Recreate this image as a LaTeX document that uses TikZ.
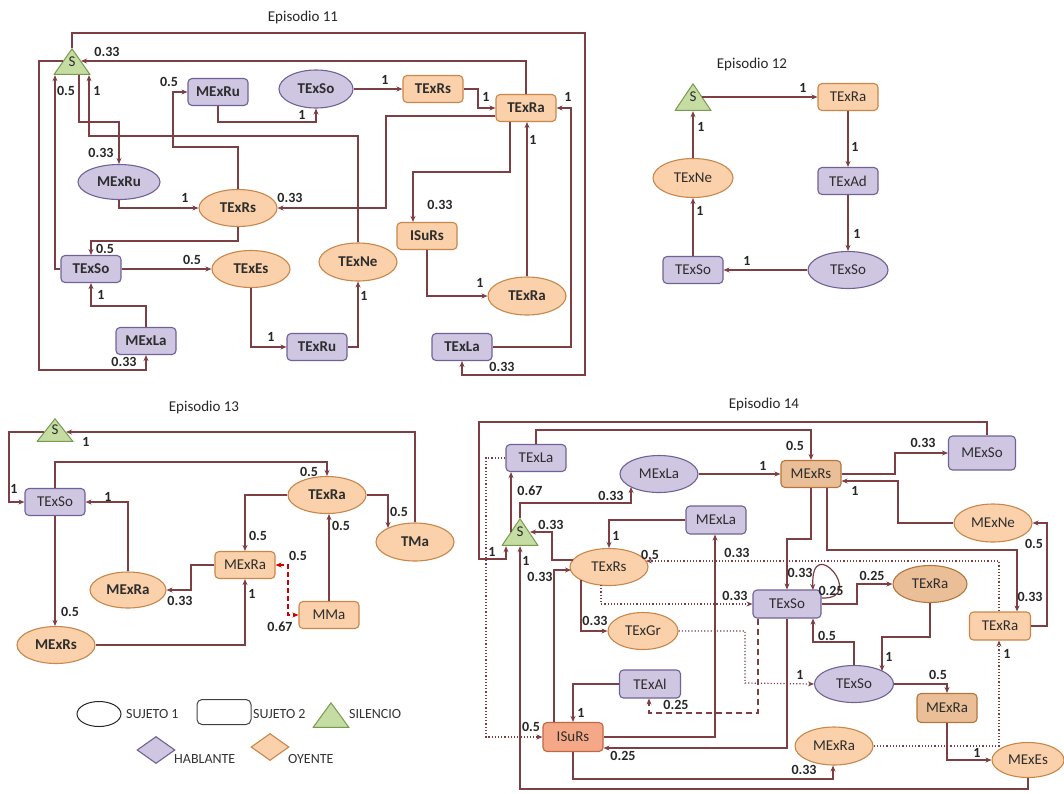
\documentclass[tikz,border=0pt]{standalone}
\usepackage{fontspec}
\setmainfont{Carlito}
\usetikzlibrary{shapes.geometric,arrows.meta}

\definecolor{edgec}{RGB}{125,62,68}
\definecolor{hablf}{RGB}{207,198,226}
\definecolor{hablb}{RGB}{112,98,150}
\definecolor{oyef}{RGB}{250,209,170}
\definecolor{oyeb}{RGB}{200,135,75}
\definecolor{oyedf}{RGB}{234,190,150}
\definecolor{oyedb}{RGB}{180,118,62}
\definecolor{isuf}{RGB}{244,168,135}
\definecolor{isub}{RGB}{190,105,70}
\definecolor{silf}{RGB}{197,220,163}
\definecolor{silb}{RGB}{120,155,80}
\definecolor{txt}{RGB}{45,45,45}

\newcommand\nfont{\fontsize{15}{18}\selectfont}
\newcommand\lfont{\fontsize{14}{16}\selectfont}

\tikzset{
  base/.style={draw, line width=1.1pt, inner sep=0pt, text=txt, font=\nfont},
  boxn/.style={base, rectangle, rounded corners=4pt, minimum width=60pt, minimum height=27pt},
  ellip/.style={base, ellipse, minimum width=78pt, minimum height=37pt},
  habl/.style={fill=hablf, draw=hablb},
  oye/.style={fill=oyef, draw=oyeb},
  oyed/.style={fill=oyedf, draw=oyedb},
  isu/.style={fill=isuf, draw=isub},
  bold/.style={font=\nfont\bfseries},
  silence/.style={minimum width=37pt, minimum height=27pt, inner sep=0pt, text=txt, font=\nfont,
    path picture={\filldraw[fill=silf, draw=silb, line width=1pt]
      ([shift={(0.6pt,0.6pt)}]path picture bounding box.south west) --
      ([shift={(-0.6pt,0.6pt)}]path picture bounding box.south east) --
      ([yshift=-0.8pt]path picture bounding box.north) -- cycle;}},
  arr/.style={draw=edgec, line width=1.2pt, -{Stealth[length=6pt,width=5pt]}},
  dotarr/.style={arr, dash pattern=on 1.2pt off 2pt},
  dasharr/.style={arr, dash pattern=on 6pt off 4pt},
  redarr/.style={draw=red!80!black, line width=1.2pt, dash pattern=on 5pt off 3pt,
    {Stealth[length=6pt,width=5pt]}-{Stealth[length=6pt,width=5pt]}},
  lbl/.style={text=black!85, font=\lfont\bfseries, inner sep=0pt},
  title/.style={text=black!85, font=\nfont, inner sep=0pt},
  lgd/.style={text=black!80, font=\lfont, inner sep=0pt, anchor=west},
}

\begin{document}
\begin{tikzpicture}[x=1pt, y=-1pt]
\useasboundingbox (0,0) rectangle (1064,793);

% ---------------- Episodio 11 ----------------
\begin{scope}[boxn/.append style={bold}, ellip/.append style={bold}]
\node[title] (a-title) at (303,17) {Episodio 11};
\node[silence] (a-s) at (72,61.5) {\raisebox{-4pt}{S}};
\node[boxn, habl] (a-mexruR) at (218,92) {MExRu};
\node[ellip, habl, minimum width=74pt, minimum height=38pt] (a-texsoE) at (316,89) {TExSo};
\node[boxn, oye] (a-texrsR) at (433,89) {TExRs};
\node[boxn, oye] (a-texraR) at (526,108) {TExRa};
\node[ellip, habl, minimum width=82pt, minimum height=35pt] (a-mexruE) at (119,182) {MExRu};
\node[ellip, oye] (a-texrsE) at (238,208) {TExRs};
\node[boxn, habl] (a-texsoR) at (91,269) {TExSo};
\node[ellip, oye] (a-texesE) at (251,269) {TExEs};
\node[boxn, habl] (a-mexlaR) at (146,341) {MExLa};
\node[boxn, habl] (a-texruR) at (317,347) {TExRu};
\node[ellip, oye, minimum height=38pt] (a-texneE) at (358,262) {TExNe};
\node[boxn, oye] (a-isursR) at (427,236) {ISuRs};
\node[ellip, oye, minimum height=38pt] (a-texraE) at (527,296) {TExRa};
\node[boxn, habl] (a-texlaR) at (462,347) {TExLa};
\end{scope}

% transitions of episode 11
\draw[arr] (a-s.north) |- (585,33) |- (a-texlaR.south |- 0,375) -- (a-texlaR.south) node[lbl] at (502,367) {0.33};
\draw[arr] (a-texraR.north) |- (81,61) node[lbl] at (107,52) {0.33};
\draw[arr] (63,61) -| (39,370) -| (a-mexlaR.south) node[lbl] at (124,362) {0.33};
\draw[arr] (a-s.south -| 79,0) |- (a-mexruE.north |- 0,122) -- (a-mexruE.north) node[lbl] at (101,153) {0.33};
\draw[arr] (a-texneE.north) |- (89,136) -- (a-s.south -| 89,0) node[lbl] at (97,91) {1};
\draw[arr] (a-texsoR.west) -| (a-s.south -| 55,0) node[lbl] at (66,91) {0.5};
\draw[arr] (a-texrsE.north) |- (173,147) |- (a-mexruR.west) node[lbl] at (169,82) {0.5};
\draw[arr] (a-mexruR.south) |- (a-texsoE.south |- 0,122) -- (a-texsoE.south) node[lbl] at (302,115) {1};
\draw[arr] (a-texsoE.east) -- (a-texrsR.west) node[lbl] at (385,80) {1};
\draw[arr] (a-texrsR.east) -| (478,108) -- (a-texraR.west) node[lbl] at (486,97) {1};
\draw[arr] (a-texraR.west |- 0,116) -| (a-texrsE.east -| 386,0) -- (a-texrsE.east) node[lbl] at (290,198) {0.33};
\draw[arr] (a-texraR.south -| 510,0) |- (413,172) -- (a-isursR.north -| 413,0) node[lbl] at (440,205) {0.33};
\draw[arr] (a-texraE.north) -- (a-texraR.south -| a-texraE.north) node[lbl] at (533,140) {1};
\draw[arr] (a-texlaR.east) -| (571,108) -- (a-texraR.east) node[lbl] at (568,97) {1};
\draw[arr] (a-mexruE.south) |- (a-texrsE.west) node[lbl] at (185,198) {1};
\draw[arr] (a-texrsE.south) |- (a-texsoR.north |- 0,241) -- (a-texsoR.north) node[lbl] at (105,249) {0.5};
\draw[arr] (a-texsoR.east) -- (a-texesE.west) node[lbl] at (192,260) {0.5};
\draw[arr] (a-mexlaR.north) |- (a-texsoR.south |- 0,306) -- (a-texsoR.south) node[lbl] at (101,295) {1};
\draw[arr] (a-texesE.south) |- (a-texruR.west) node[lbl] at (271,337) {1};
\draw[arr] (a-texruR.east) -| (a-texneE.south) node[lbl] at (364,296) {1};
\draw[arr] (a-isursR.south) |- (a-texraE.west) node[lbl] at (480,283) {1};

% ---------------- Episodio 12 ----------------
\node[title] (b-title) at (752,64) {Episodio 12};
\node[silence, minimum height=28pt] (b-s) at (693,97) {\raisebox{-4pt}{S}};
\node[boxn, oye] (b-texraR) at (848,97) {TExRa};
\node[boxn, habl] (b-texadR) at (848,181) {TExAd};
\node[ellip, habl, minimum width=80pt] (b-texsoE) at (848,270) {TExSo};
\node[boxn, habl] (b-texsoR) at (693,270) {TExSo};
\node[ellip, oye, minimum width=80pt, minimum height=39pt] (b-texneE) at (693,178) {TExNe};

\draw[arr] (702,97) -- (b-texraR.west) node[lbl] at (803,88) {1};
\draw[arr] (b-texraR.south) -- (b-texadR.north) node[lbl] at (855,147) {1};
\draw[arr] (b-texadR.south) -- (b-texsoE.north) node[lbl] at (857,234) {1};
\draw[arr] (b-texsoE.west) -- (b-texsoR.east) node[lbl] at (747,261) {1};
\draw[arr] (b-texsoR.north) -- (b-texneE.south) node[lbl] at (700,211) {1};
\draw[arr] (b-texneE.north) -- (b-s.south) node[lbl] at (701,127) {1};

% ---------------- Episodio 13 ----------------
\node[title] (c-title) at (204,407) {Episodio 13};
\node[silence, minimum height=24pt] (c-s) at (55,430) {\raisebox{-4pt}{S}};
\node[boxn, habl] (c-texsoR) at (55,502) {TExSo};
\node[ellip, oye, bold, minimum width=76pt, minimum height=36pt] (c-mexraE) at (128,590) {MExRa};
\node[ellip, oye, bold] (c-mexrsE) at (56,645) {MExRs};
\node[ellip, oye, bold] (c-texraE) at (327,495) {TExRa};
\node[ellip, oye, bold, minimum height=38pt] (c-tmaE) at (415,542) {TMa};
\node[boxn, oye] (c-mexraR) at (245,565) {MExRa};
\node[boxn, oye] (c-mmaR) at (329,615) {MMa};

\draw[arr] (c-tmaE.north) |- (66,432) node[lbl] at (86,442) {1};
\draw[arr] (44,432) -| (9,502) -- (c-texsoR.west) node[lbl] at (14,489) {1};
\draw[arr] (c-texsoR.north) |- (c-texraE.north |- 0,462) -- (c-texraE.north) node[lbl] at (309,472) {0.5};
\draw[arr] (c-texraE.west) -| (c-mexraR.north) node[lbl] at (258,536) {0.5};
\draw[arr] (c-texraE.east) -| (388,528) node[lbl] at (399,512) {0.5};
\draw[arr] (c-mmaR.north) -- (c-mmaR.north |- c-texraE.south) node[lbl] at (341,526) {0.5};
\draw[redarr] (c-mexraR.east) -| (288,615) -- (c-mmaR.west)
  node[lbl] at (298,556) {0.5} node[lbl] at (280,627) {0.67};
\draw[arr] (c-mexraR.west) -| (191,590) -- (c-mexraE.east) node[lbl] at (180,601) {0.33};
\draw[arr] (c-mexraE.north) |- (c-texsoR.east) node[lbl] at (108,497) {1};
\draw[arr] (c-texsoR.south) -- (c-mexrsE.north -| c-texsoR.south) node[lbl] at (70,612) {0.5};
\draw[arr] (c-mexrsE.east) -| (c-mexraR.south) node[lbl] at (252,594) {1};

% ---------------- Episodio 14 ----------------
\node[title] (d-title) at (764,404) {Episodio 14};
\node[silence, minimum height=28pt] (d-s) at (520,532) {\raisebox{-4pt}{S}};
\node[boxn, habl] (d-texlaR) at (536,458) {TExLa};
\node[ellip, habl] (d-mexlaE) at (659,474) {MExLa};
\node[boxn, oyed] (d-mexrsR) at (811,474) {MExRs};
\node[boxn, habl, minimum width=67pt, minimum height=34pt] (d-mexsoR) at (982,453) {MExSo};
\node[boxn, habl, minimum height=28pt] (d-mexlaR) at (716,520) {MExLa};
\node[ellip, oye] (d-texrsE) at (609,567) {TExRs};
\node[ellip, oye, minimum height=38pt] (d-mexneE) at (993,523) {MExNe};
\node[ellip, oyed, minimum width=74pt] (d-texraE) at (930,584) {TExRa};
\node[boxn, habl, minimum width=68pt, minimum height=28pt] (d-texsoR) at (787,604) {TExSo};
\node[boxn, oye, minimum width=61pt, minimum height=28pt] (d-texraR) at (1000,626) {TExRa};
\node[ellip, oye, minimum width=70pt] (d-texgrE) at (643,631) {TExGr};
\node[boxn, habl, minimum width=61pt, minimum height=28pt] (d-texalR) at (650,684) {TExAl};
\node[ellip, habl, minimum width=79pt] (d-texsoE) at (854,684) {TExSo};
\node[boxn, oyed, minimum height=29pt] (d-mexraR) at (947,708) {MExRa};
\node[boxn, isu, minimum height=29pt] (d-isursR) at (573,737) {ISuRs};
\node[ellip, oye, minimum height=38pt] (d-mexraE) at (834,746) {MExRa};
\node[ellip, oye, minimum width=72pt, minimum height=35pt] (d-mexesE) at (1028,760) {MExEs};

% transitions of episode 14
\draw[arr] (d-mexsoR.north -| 987,0) |- (479,422) |- (506,559) -- (d-s.south -| 506,0) node[lbl] at (492,552) {1};
\draw[arr] (d-texlaR.north) |- (d-mexrsR.north |- 0,430) -- (d-mexrsR.north) node[lbl] at (795,446) {0.5};
\draw[arr] (d-s.center -| 511,0) -- (d-texlaR.south -| 511,0) node[lbl] at (530,491) {0.67};
\draw[arr] (d-s.north) |- (631,503) -- (631,487) node[lbl] at (611,496) {0.33};
\draw[arr] (d-mexlaE.east) -- (d-mexrsR.west) node[lbl] at (763,466) {1};
\draw[arr] (d-mexrsR.east) -| (895,453) -- (d-mexsoR.west) node[lbl] at (923,443) {0.33};
\draw[arr] (d-mexneE.west) -| (898,481) -- (d-mexrsR.east |- 0,481) node[lbl] at (855,491) {1};
\draw[arr] (d-mexrsR.south) |- (d-texsoR.north |- 0,539) -- (d-texsoR.north) node[lbl] at (800,573) {0.33};
\draw[arr] (d-texsoR.east |- 0,598) .. controls (868,600) and (810,530) .. (813,590) node[lbl] at (831,591) {0.25};
\draw[arr] (d-mexrsR.south -| 827,0) |- (1017,550) -- (d-texraR.north -| 1017,0) node[lbl] at (1030,597) {0.33};
\draw[arr] (d-texraR.east) -| (1047,523) -- (d-mexneE.east) node[lbl] at (1034,544) {0.5};
\draw[arr] (d-mexlaR.west) -| (d-texrsE.north) node[lbl] at (616,536) {1};
\draw[arr] (573,560) -| (552,532) -- (530,532) node[lbl] at (551,525) {0.33};
\draw[arr] (d-isursR.north -| 554,0) |- (571,570) node[lbl] at (540,577) {0.33};
\draw[arr] (d-mexesE.south) |- (520,789) -- (d-s.south) node[lbl] at (526,561) {1};
\draw[dotarr] (d-texlaR.west) -| (486,737) -- (d-isursR.west) node[lbl] at (531,727) {0.5};
\draw[dotarr] (d-texraR.north -| 999,0) |- (646,561) node[lbl] at (650,555) {0.5};
\draw[dotarr] (d-mexraE.east) -| (d-texraR.south -| 999,0) node[lbl] at (1007,654) {1};
\draw[arr] (d-isursR.east) -| (d-mexlaR.south -| 715,0) node[lbl] at (737,553) {0.33};
\draw[dotarr] (601,585) |- (d-texsoR.west) node[lbl] at (735,596) {0.33};
\draw[arr] (581,580) |- (d-texgrE.west) node[lbl] at (595,621) {0.33};
\draw[dotarr] (d-texgrE.east) -| (745,683) -- (d-texsoE.west) node[lbl] at (800,675) {1};
\draw[dasharr] (d-texsoR.south -| 758,0) |- (649,713) -- (d-texalR.south -| 649,0) node[lbl] at (676,705) {0.25};
\draw[arr] (d-texalR.west) -| (d-isursR.north) node[lbl] at (581,713) {1};
\draw[arr] (d-texsoR.south) |- (d-isursR.east |- 0,748) node[lbl] at (623,756) {0.25};
\draw[arr] (d-isursR.south) |- (833,779) -- (d-mexraE.south -| 833,0) node[lbl] at (804,770) {0.33};
\draw[arr] (d-texsoR.east) -| (857,584) -- (d-texraE.west) node[lbl] at (872,576) {0.25};
\draw[arr] (d-texraE.south) |- (882,637) -- (882,671) node[lbl] at (889,657) {1};
\draw[arr] (d-texsoE.north) |- (813,642) -- (d-texsoR.south -| 813,0) node[lbl] at (827,636) {0.5};
\draw[arr] (d-texsoE.east) -| (d-mexraR.north) node[lbl] at (938,675) {0.5};
\draw[arr] (d-mexraR.south) |- (d-mexesE.west) node[lbl] at (977,753) {1};

% ---------------- Leyenda ----------------
\node[base, ellipse, draw=black!85, line width=1pt, minimum width=44pt, minimum height=25pt] (l-suj1) at (99,714) {};
\node[lgd] (l-suj1t) at (126,714) {SUJETO 1};
\node[base, rounded corners=5pt, draw=black!75, line width=1pt, minimum width=54pt, minimum height=25pt] (l-suj2) at (224,712) {};
\node[lgd] (l-suj2t) at (253,714) {SUJETO 2};
\node[silence, minimum height=26pt] (l-sil) at (331,715) {};
\node[lgd] (l-silt) at (349,714) {SILENCIO};
\node[base, diamond, habl, minimum width=38pt, minimum height=27pt] (l-habl) at (156,750) {};
\node[lgd] (l-hablt) at (174,759) {HABLANTE};
\node[base, diamond, oye, minimum width=38pt, minimum height=27pt] (l-oye) at (270,747) {};
\node[lgd] (l-oyet) at (288,759) {OYENTE};
\end{tikzpicture}
\end{document}
